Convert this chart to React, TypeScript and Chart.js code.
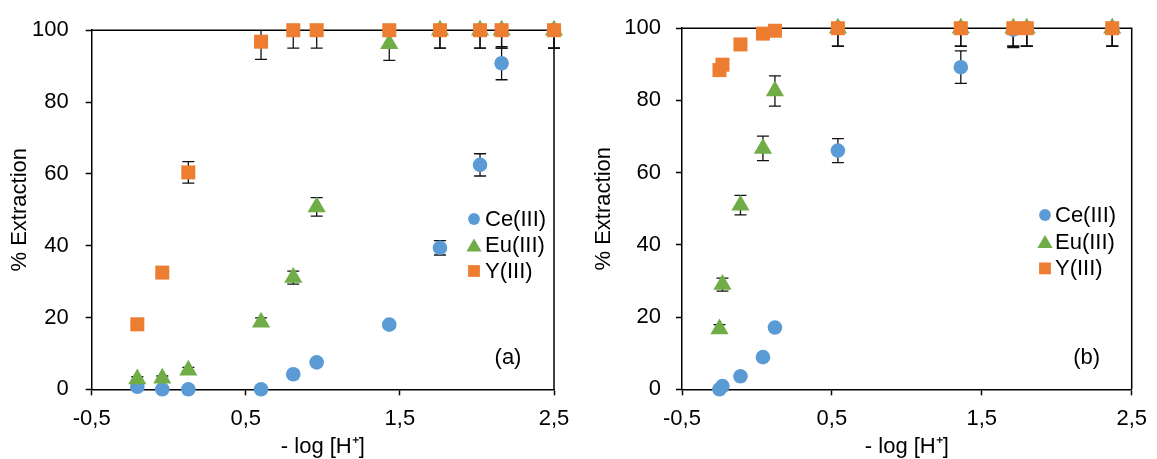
import React, { useEffect, useRef } from 'react';
import { Chart, registerables } from 'chart.js';

Chart.register(...registerables);
Chart.defaults.font.family = '"Liberation Sans", Arial, sans-serif';

// ---------- data ----------
const seriesLabels = ['Ce(III)', 'Eu(III)', 'Y(III)'];
const seriesColors = ['#5B9BD5', '#70AD47', '#ED7D31'];
const seriesStyles = ['circle', 'triangle', 'rect'];

const xTickValues = [-0.5, 0.5, 1.5, 2.5];
const yTickValues = [0, 20, 40, 60, 80, 100];

// panel (a)
const xA = [-0.204, -0.042, 0.127, 0.599, 0.808, 0.96, 1.431, 1.76, 2.02, 2.16, 2.5];
const ceA = [0.7, 0, 0, 0, 4.2, 7.5, 18.0, 39.4, 62.5, 90.8, 100];
const euA = [2.9, 3.1, 5.3, 18.7, 31.1, 50.8, 96.2, 100, 100, 100, 100];
const yA = [18.1, 32.5, 60.4, 96.8, 100, 100, 100, 100, 100, 100, 100];
const ceErrA = [0.3, 0.3, 0.3, 0.3, 0.4, 0.5, 0.6, 2.0, 3.1, 4.6, 5];
const euErrA = [0.6, 0.6, 0.8, 1.2, 1.8, 2.6, 4.6, 5, 5, 5, 5];
const yErrA = [0.5, 0.5, 3.0, 4.9, 5, 5, 5, 5, 5, 5, 5];

// panel (b)
const xB = [-0.25, -0.23, -0.11, 0.04, 0.12, 0.54, 1.36, 1.71, 1.8, 2.37];
const ceB = [0, 0.9, 3.6, 8.9, 17.1, 66.1, 89.2, 99.6, 100, 100];
const euB = [16.7, 29.0, 51.0, 66.7, 82.6, 100, 100, 100, 100, 100];
const yB = [88.4, 89.9, 95.5, 98.5, 99.3, 100, 100, 100, 100, 100];
const ceErrB = [0.3, 0.3, 0.4, 0.6, 0.8, 3.3, 4.5, 5, 5, 5];
const euErrB = [1.2, 1.8, 2.7, 3.4, 4.2, 5, 5, 5, 5, 5];
const yErrB = [0.5, 0.5, 0.5, 0.5, 0.5, 5, 5, 5, 5, 5];

const xTitle = '- log [H\u207A]';
const yTitle = '% Extraction';

// ---------- layout (not data) ----------
const FONT = 22;
const H = 459;
const panels = [
  {
    tag: '(a)', x: xA, values: [ceA, euA, yA], errors: [ceErrA, euErrA, yErrA],
    canvasLeft: 0, width: 580,
    area: { left: 91.7, right: 554, top: 27.7, bottom: 389.3 },
    yTitlePad: 9, yTickPad: 17,
    legend: { x: 474, y: 219, dy: 26, textX: 485 },
    tagPos: { x: 508, y: 358 },
  },
  {
    tag: '(b)', x: xB, values: [ceB, euB, yB], errors: [ceErrB, euErrB, yErrB],
    canvasLeft: 580, width: 577,
    area: { left: 102, right: 557, top: 24.6, bottom: 389.3 },
    yTitlePad: 13.4, yTickPad: 15,
    legend: { x: 465, y: 215, dy: 26.7, textX: 475 },
    tagPos: { x: 506.7, y: 358 },
  },
];

const pointRadii: Record<string, number> = { circle: 7.3, triangle: 10.5, rect: 9.9 };

const fmt = (v: number) => v.toFixed(1).replace('.', ',');

function drawLegendMarker(ctx: CanvasRenderingContext2D, style: string, x: number, y: number, color: string) {
  ctx.save();
  ctx.fillStyle = color;
  ctx.beginPath();
  if (style === 'circle') {
    ctx.arc(x, y, 5.9, 0, Math.PI * 2);
  } else if (style === 'triangle') {
    ctx.moveTo(x, y - 6.6);
    ctx.lineTo(x + 7.6, y + 6.4);
    ctx.lineTo(x - 7.6, y + 6.4);
    ctx.closePath();
  } else {
    ctx.rect(x - 5.9, y - 5.9, 11.8, 11.8);
  }
  ctx.fill();
  ctx.restore();
}

function Panel({ p }: { p: typeof panels[number] }) {
  const ref = useRef<HTMLCanvasElement | null>(null);
  useEffect(() => {
    if (!ref.current) return;
    const font = { size: FONT, family: '"Liberation Sans", Arial, sans-serif', lineHeight: 1 };

    const framePlugin = {
      id: 'frame',
      beforeDatasetsDraw(chart: any) {
        const { ctx, chartArea: ca } = chart;
        ctx.save();
        ctx.strokeStyle = '#000';
        ctx.lineWidth = 1.5;
        ctx.beginPath();
        ctx.moveTo(ca.left, ca.top);
        ctx.lineTo(ca.right, ca.top);
        ctx.lineTo(ca.right, ca.bottom);
        ctx.stroke();
        ctx.restore();
      },
    };

    const errorPlugin = {
      id: 'errbars',
      beforeDatasetsDraw(chart: any) {
        const { ctx, chartArea: ca } = chart;
        const yScale = chart.scales.y;
        ctx.save();
        ctx.beginPath();
        ctx.rect(ca.left - 30, ca.top, ca.right - ca.left + 60, ca.bottom - ca.top);
        ctx.clip();
        ctx.strokeStyle = '#111';
        ctx.lineWidth = 1.3;
        chart.data.datasets.forEach((ds: any, i: number) => {
          const meta = chart.getDatasetMeta(i);
          const errs: number[] = ds.errors;
          meta.data.forEach((el: any, j: number) => {
            const v = ds.data[j].y;
            const e = errs[j];
            const px = el.x;
            const yTop = yScale.getPixelForValue(v + e);
            const yBot = yScale.getPixelForValue(v - e);
            ctx.beginPath();
            ctx.moveTo(px, yTop);
            ctx.lineTo(px, yBot);
            ctx.moveTo(px - 6, yTop);
            ctx.lineTo(px + 6, yTop);
            ctx.moveTo(px - 6, yBot);
            ctx.lineTo(px + 6, yBot);
            ctx.stroke();
          });
        });
        ctx.restore();
      },
    };

    const legendPlugin = {
      id: 'customLegend',
      afterDraw(chart: any) {
        const { ctx } = chart;
        ctx.save();
        ctx.font = `${FONT}px "Liberation Sans", Arial, sans-serif`;
        ctx.fillStyle = '#000';
        ctx.textBaseline = 'middle';
        ctx.textAlign = 'left';
        seriesLabels.forEach((lab, i) => {
          const y = p.legend.y + i * p.legend.dy;
          drawLegendMarker(ctx, seriesStyles[i], p.legend.x, y, seriesColors[i]);
          ctx.fillStyle = '#000';
          ctx.fillText(lab, p.legend.textX, y + 1);
        });
        ctx.textAlign = 'center';
        ctx.fillText(p.tag, p.tagPos.x, p.tagPos.y);
        ctx.restore();
      },
    };

    const datasets = p.values.map((vals, i) => ({
      label: seriesLabels[i],
      data: p.x.map((xv, j) => ({ x: xv, y: vals[j] })),
      errors: p.errors[i],
      pointStyle: seriesStyles[i],
      pointRadius: pointRadii[seriesStyles[i]],
      pointHoverRadius: pointRadii[seriesStyles[i]],
      backgroundColor: seriesColors[i],
      borderColor: seriesColors[i],
      pointBorderWidth: 0,
      showLine: false,
      clip: false,
      order: 3 - i,
    }));

    const chart = new Chart(ref.current, {
      type: 'scatter',
      data: { datasets } as any,
      options: {
        responsive: false,
        maintainAspectRatio: false,
        animation: false,
        devicePixelRatio: 1,
        events: [],
        layout: { padding: { left: 0, right: p.width - p.area.right, top: p.area.top, bottom: 0 } },
        plugins: { legend: { display: false }, tooltip: { enabled: false } },
        scales: {
          x: {
            type: 'linear',
            min: -0.5,
            max: 2.5,
            afterFit: (s: any) => { s.height = H - p.area.bottom; },
            afterBuildTicks: (s: any) => { s.ticks = xTickValues.map((v) => ({ value: v })); },
            ticks: { callback: (v: any) => fmt(Number(v)), font: { size: FONT }, color: '#000', padding: 10, maxRotation: 0, autoSkip: false },
            grid: { display: true, drawOnChartArea: false, drawTicks: true, tickLength: 6, tickColor: '#000', tickWidth: 1.5 },
            border: { display: true, color: '#000', width: 1.5 },
            title: { display: true, text: xTitle, font, color: '#000', padding: { top: 0, bottom: 0.6 } },
          },
          y: {
            type: 'linear',
            min: 0,
            max: 100,
            afterFit: (s: any) => { s.width = p.area.left; },
            afterBuildTicks: (s: any) => { s.ticks = yTickValues.map((v) => ({ value: v })); },
            ticks: { font: { size: FONT }, color: '#000', padding: p.yTickPad, autoSkip: false },
            grid: { display: true, drawOnChartArea: false, drawTicks: true, tickLength: 6, tickColor: '#000', tickWidth: 1.5 },
            border: { display: true, color: '#000', width: 1.5 },
            title: { display: true, text: yTitle, font, color: '#000', padding: { top: p.yTitlePad, bottom: 0 } },
          },
        },
      } as any,
      plugins: [framePlugin, errorPlugin, legendPlugin],
    });
    return () => chart.destroy();
  }, [p]);

  return (
    <canvas
      ref={ref}
      width={p.width}
      height={H}
      style={{ position: 'absolute', left: p.canvasLeft, top: 0, width: p.width, height: H, display: 'block' }}
    />
  );
}

export default function App() {
  return (
    <div style={{ position: 'fixed', left: 0, top: 0, width: 1157, height: H, background: '#fff', overflow: 'hidden' }}>
      {panels.map((p) => (
        <Panel key={p.tag} p={p} />
      ))}
    </div>
  );
}
